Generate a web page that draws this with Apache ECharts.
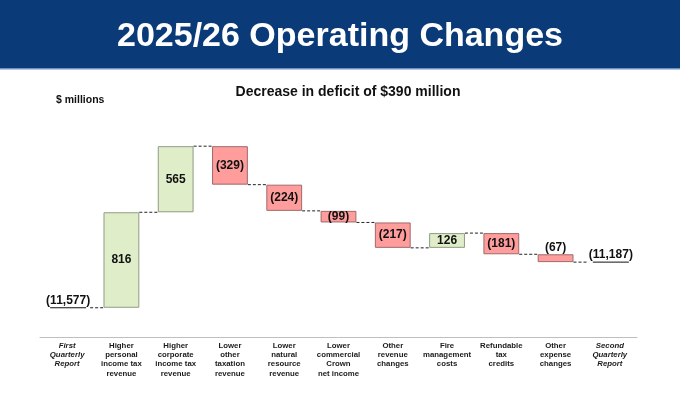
<!DOCTYPE html>
<html>
<head>
<meta charset="utf-8">
<script src="https://cdn.jsdelivr.net/npm/echarts@6/dist/echarts.min.js"></script>
<style>
html,body{margin:0;padding:0;background:#fff;}
#chart{width:680px;height:395px;}
</style>
</head>
<body>
<div id="chart"></div>
<script>
const categories = [
  'First\nQuarterly\nReport',
  'Higher\npersonal\nincome tax\nrevenue',
  'Higher\ncorporate\nincome tax\nrevenue',
  'Lower\nother\ntaxation\nrevenue',
  'Lower\nnatural\nresource\nrevenue',
  'Lower\ncommercial\nCrown\nnet income',
  'Other\nrevenue\nchanges',
  'Fire\nmanagement\ncosts',
  'Refundable\ntax\ncredits',
  'Other\nexpense\nchanges',
  'Second\nQuarterly\nReport'
];
const startDeficit = -11577;
const changes = [816, 565, -329, -224, -99, -217, 126, -181, -67];
const endDeficit = -11187;
const titleText = '2025/26 Operating Changes';
const subtitleText = 'Decrease in deficit of $390 million';
const unitText = '$ millions';

const FONT = '"Liberation Sans", Arial, Helvetica, sans-serif';
const fmt = n => n < 0 ? '(' + Math.abs(n).toLocaleString('en-US') + ')' : n.toLocaleString('en-US');

// cumulative levels relative to the first-quarter deficit
const levels = [0];
changes.forEach((c, i) => levels.push(levels[i] + c));

const baseData = categories.map((c, i) => {
  if (i === 0 || i === categories.length - 1) return '-';
  return Math.min(levels[i - 1], levels[i]);
});
const deltaData = categories.map((c, i) => {
  if (i === 0 || i === categories.length - 1) return '-';
  const ch = changes[i - 1];
  return {
    value: Math.abs(ch),
    itemStyle: {
      color: ch > 0 ? '#DFEDC9' : '#FF9C9C',
      borderColor: ch > 0 ? '#8E9C84' : '#A06A6A',
      borderWidth: 1
    },
    label: { position: Math.abs(ch) < 80 ? 'top' : 'inside', distance: 1 }
  };
});

const connectorData = levels.map((v, i) => [i, v]);
const endLabelData = [[0, levels[0], fmt(startDeficit)], [categories.length - 1, levels[levels.length - 1], fmt(endDeficit)]];

const mctx = document.createElement('canvas').getContext('2d');
function textW(t, font) { mctx.font = font; return mctx.measureText(t).width; }

const chart = echarts.init(document.getElementById('chart'));
chart.setOption({
  animation: false,
  grid: { left: 40, right: 43, top: 103, bottom: 58 },
  xAxis: {
    type: 'category',
    data: categories,
    axisLine: { show: true, onZero: false, lineStyle: { color: '#BFBFBF', width: 1 } },
    axisTick: { show: false },
    axisLabel: {
      interval: 0,
      margin: 4,
      formatter: (v, idx) => {
        const italic = idx === 0 || idx === categories.length - 1;
        return v.split('\n').map(l => '{' + (italic ? 'i' : 'n') + '|' + l + '}').join('\n');
      },
      rich: {
        n: { fontFamily: FONT, fontWeight: 'bold', fontSize: 7.8, lineHeight: 9.3, color: '#1a1a1a' },
        i: { fontFamily: FONT, fontWeight: 'bold', fontStyle: 'italic', fontSize: 7.8, lineHeight: 9.3, color: '#1a1a1a' }
      }
    }
  },
  yAxis: { type: 'value', min: -250, max: 1750, show: false, splitLine: { show: false } },
  graphic: [
    { type: 'rect', shape: { x: 0, y: 0, width: 680, height: 68 }, style: { fill: '#0B3A78' }, z: 10 },
    { type: 'rect', shape: { x: 0, y: 68, width: 680, height: 1.5 }, style: { fill: '#6F8FC0' }, z: 10 },
    { type: 'text', x: 340, y: 37, style: { text: titleText, fill: '#fff', font: 'bold 34px ' + FONT, align: 'center', verticalAlign: 'middle' }, z: 11 },
    { type: 'text', x: 348, y: 92, style: { text: subtitleText, fill: '#111', font: 'bold 14px ' + FONT, align: 'center', verticalAlign: 'middle' }, z: 11 },
    { type: 'text', x: 56, y: 100, style: { text: unitText, fill: '#111', font: 'bold 10.5px ' + FONT, align: 'left', verticalAlign: 'middle' }, z: 11 }
  ],
  series: [
    {
      type: 'bar', stack: 'wf', barWidth: '66%', silent: true,
      itemStyle: { color: 'transparent' }, data: baseData
    },
    {
      type: 'bar', stack: 'wf', barWidth: '66%', data: deltaData,
      label: {
        show: true,
        formatter: p => fmt(changes[p.dataIndex - 1]),
        fontFamily: FONT, fontWeight: 'bold', fontSize: 12, color: '#111'
      }
    },
    {
      type: 'custom', data: connectorData, clip: false, z: 5,
      renderItem: (params, api) => {
        const i = api.value(0);
        const p = api.coord([i, api.value(1)]);
        const band = api.size([1, 0])[0];
        const half = band * 0.33;
        const x1 = i === 0 ? p[0] + 23 : p[0] + half;
        const x2 = i === categories.length - 2 ? p[0] + band - 22 : p[0] + band - half;
        return {
          type: 'line',
          shape: { x1: x1, y1: p[1], x2: x2, y2: p[1] },
          style: { stroke: '#222', lineWidth: 1, lineDash: [3, 2] }
        };
      }
    },
    {
      type: 'custom', data: endLabelData, clip: false, z: 6,
      renderItem: (params, api) => {
        const item = endLabelData[params.dataIndex];
        const p = api.coord([item[0], item[1]]);
        const font = 'bold 12px ' + FONT;
        const w = textW(item[2], font);
        const pw = textW('(', font);
        const cx = p[0] + 1;
        return {
          type: 'group',
          children: [
            { type: 'text', style: { text: item[2], x: cx, y: p[1] - 1, font: font, fill: '#111', align: 'center', verticalAlign: 'bottom' } },
            { type: 'line', shape: { x1: cx - w / 2 + pw, y1: p[1], x2: cx + w / 2 - pw, y2: p[1] }, style: { stroke: '#111', lineWidth: 1 } }
          ]
        };
      }
    }
  ]
});
</script>
</body>
</html>
